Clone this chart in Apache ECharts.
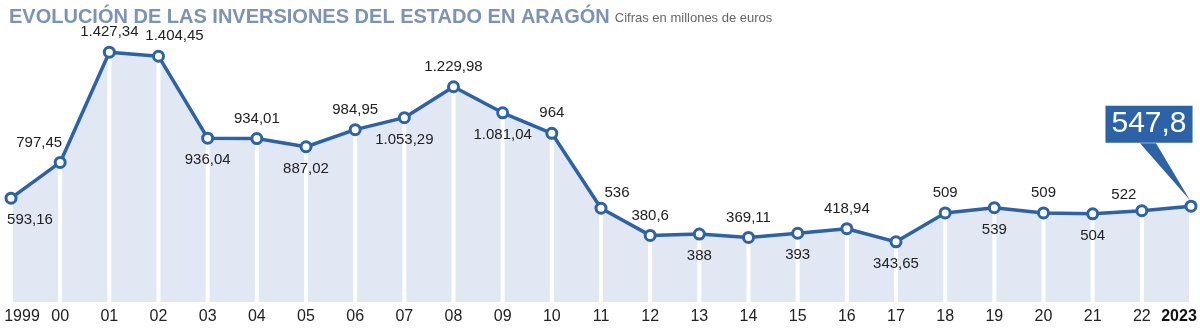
<!DOCTYPE html>
<html>
<head>
<meta charset="utf-8">
<script src="https://cdn.jsdelivr.net/npm/echarts@6/dist/echarts.min.js"></script>
<style>
html,body{margin:0;padding:0;background:#fff;}
#chart{width:1200px;height:328px;}
</style>
</head>
<body>
<div id="chart"></div>
<script>
const years = ['1999','00','01','02','03','04','05','06','07','08','09','10','11','12','13','14','15','16','17','18','19','20','21','22','2023'];
const values = [593.16,797.45,1427.34,1404.45,936.04,934.01,887.02,984.95,1053.29,1229.98,1081.04,964,536,380.6,388,369.11,393,418.94,343.65,509,539,509,504,522,547.8];
const titleText = 'EVOLUCIÓN DE LAS INVERSIONES DEL ESTADO EN ARAGÓN';
const subtitleText = 'Cifras en millones de euros';

// style: label placement (t = above, b = below, c = callout) and special nudges
const side = ['b','t','t','t','b','t','b','t','b','t','b','t','t','t','b','t','b','t','b','t','b','t','b','t','c'];
const nudge = {0:[19,0],1:[-21,0],3:[16,0],12:[16,5],23:[-18,4]};

const BLUE = '#2b62a8';
const FONT = '"Liberation Sans", Arial, Helvetica, sans-serif';

function fmt(v){
  const parts = v.toString().split('.');
  let ip = parts[0].replace(/\B(?=(\d{3})+(?!\d))/g,'.');
  return parts.length>1 ? ip+','+parts[1] : ip;
}

const lineData = values.map((v,i)=>{
  if (side[i]==='c') {
    return {value:v, label:{show:true, position:'inside', offset:[-42,-82],
      formatter: fmt(v), color:'#fff', fontSize:30, backgroundColor:BLUE,
      padding:[4,6,3,6], fontFamily:FONT}};
  }
  const lab = {show:true, position: side[i]==='t'?'top':'bottom', distance: side[i]==='t'?6:8,
    formatter: fmt(v)};
  if (nudge[i]) lab.offset = nudge[i];
  return {value:v, label:lab};
});

const chart = echarts.init(document.getElementById('chart'));
chart.setOption({
  animation:false,
  backgroundColor:'#fff',
  title:{
    left:4, top:2,
    text:'{a|'+titleText+'} {b|'+subtitleText+'}',
    textStyle:{rich:{
      a:{fontFamily:FONT, fontWeight:'bold', fontSize:20, color:'#7a93b8'},
      b:{fontFamily:FONT, fontWeight:'normal', fontSize:13, color:'#666', padding:[3,0,0,0]}
    }}
  },
  grid:{left:11, right:9, top:22, bottom:26},
  xAxis:{
    type:'category', data:years, boundaryGap:false,
    axisLine:{show:false}, axisTick:{show:false}, splitLine:{show:false},
    axisLabel:{
      margin:7, fontSize:16, color:'#222', fontFamily:FONT, interval:0,
      formatter:(v,i)=> i===0 ? '{f|'+v+'}' : (i===years.length-1 ? '{l|'+v+'}' : v),
      rich:{
        f:{fontSize:16, color:'#222', fontFamily:FONT, padding:[0,0,0,22]},
        l:{fontSize:16, color:'#111', fontFamily:FONT, fontWeight:'bold', padding:[0,24,0,0]}
      }
    }
  },
  yAxis:{type:'value', min:0, max:1600, show:false, splitLine:{show:false}},
  series:[
    {type:'line', data:values, z:1, symbol:'none', lineStyle:{width:0},
     areaStyle:{color:'#e2e7f4', opacity:1}, silent:true},
    {type:'bar', data:values, z:2, barWidth:4, itemStyle:{color:'#fff'}, silent:true},
    {type:'line', data:lineData, z:3, symbol:'circle', symbolSize:10,
     itemStyle:{color:'#fff', borderColor:BLUE, borderWidth:3},
     lineStyle:{color:BLUE, width:3.5},
     label:{fontSize:15, color:'#222', fontFamily:FONT}}
  ]
});

// callout pointer, anchored to the last data point
const lastIdx = values.length-1;
const p = chart.convertToPixel({gridIndex:0}, [lastIdx, values[lastIdx]]);
const bx = p[0]-42, by = p[1]-82;
chart.setOption({graphic:[{
  type:'polygon', z:10,
  shape:{points:[[bx-9, by+19],[bx+7, by+19],[p[0]-1, p[1]-6]]},
  style:{fill:BLUE}
}]});
</script>
</body>
</html>
